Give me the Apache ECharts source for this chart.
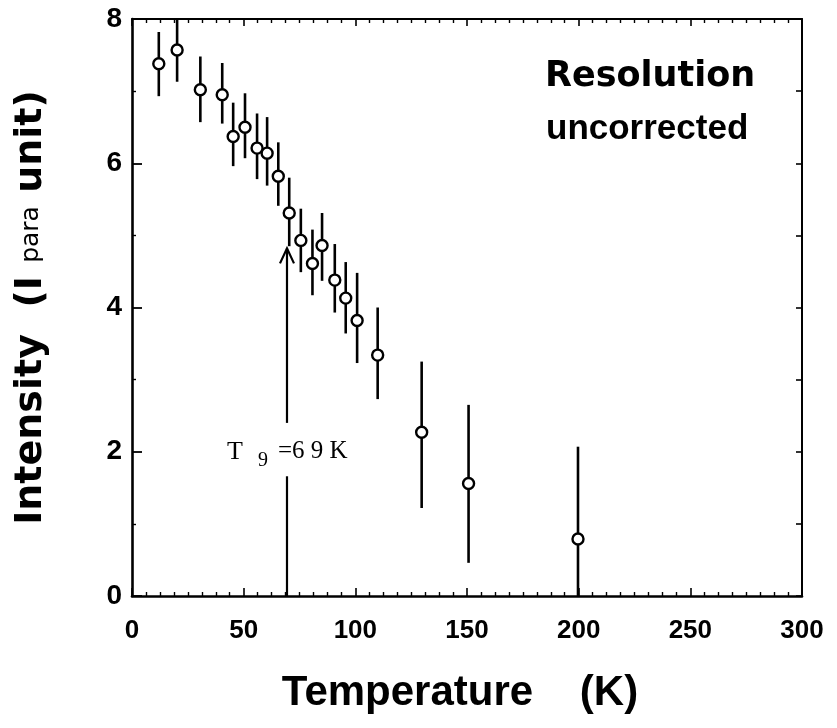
<!DOCTYPE html>
<html>
<head>
<meta charset="utf-8">
<script src="https://cdn.jsdelivr.net/npm/echarts@6/dist/echarts.min.js"></script>
<style>
  html, body { margin: 0; padding: 0; background: #fff; }
  #main { width: 837px; height: 728px; }
</style>
</head>
<body>
<div id="main"></div>
<script>
// temperatures (K), intensity and error bar ends
var temps = [12, 20.2, 30.6, 40.4, 45.3, 50.6, 56, 60.5, 65.5, 70.4, 75.6, 80.8, 85.1, 90.8, 95.7, 100.8, 110, 129.7, 150.7, 199.7];
var intensity = [7.38, 7.57, 7.02, 6.95, 6.37, 6.50, 6.21, 6.14, 5.82, 5.31, 4.93, 4.61, 4.86, 4.38, 4.13, 3.82, 3.34, 2.27, 1.56, 0.79];
var errHigh = [7.82, 8.0, 7.48, 7.39, 6.84, 6.97, 6.69, 6.64, 6.29, 5.80, 5.37, 5.08, 5.31, 4.88, 4.63, 4.48, 4.0, 3.25, 2.65, 2.07];
var errLow = [6.93, 7.13, 6.57, 6.55, 5.96, 6.07, 5.78, 5.69, 5.41, 4.85, 4.49, 4.17, 4.37, 3.93, 3.64, 3.23, 2.73, 1.22, 0.46, 0.0];

var xTicks = [0, 50, 100, 150, 200, 250, 300];
var yTicks = [0, 2, 4, 6, 8];

// T_g marker: arrow at 69 K from the axis up to the tip, label gap on the shaft
var tgTemp = 69.4;
var tgTip = 4.82;
var tgGap = [1.66, 2.40];
var tgLabelAt = [42.5, 2.18];

var myChart = echarts.init(document.getElementById("main"));

var pointData = temps.map(function (t, i) { return [t, intensity[i]]; });
var barData = temps.map(function (t, i) { return [t, errLow[i], errHigh[i]]; });

var tickFont = "'Liberation Sans', Arial, sans-serif";

var option = {
  backgroundColor: "#fff",
  animation: false,
  grid: { left: 132, right: 35, top: 19, bottom: 132 },
  graphic: [
    {
      type: "text", left: 545, top: 59,
      style: { text: "Resolution", font: "bold 35px 'DejaVu Sans'", fill: "#000" }
    },
    {
      type: "text", left: 546, top: 112,
      style: { text: "uncorrected", font: "bold 35px 'Liberation Sans'", fill: "#000" }
    }
  ],
  xAxis: [
    {
      type: "value", position: "bottom",
      min: xTicks[0], max: xTicks[xTicks.length - 1], interval: 50,
      name: "Temperature    (K)",
      nameLocation: "middle",
      nameGap: 76,
      nameTextStyle: { fontFamily: tickFont, fontWeight: "bold", fontSize: 42, color: "#000", padding: [0, 14, 0, 0] },
      axisLine: { onZero: false, lineStyle: { color: "#000", width: 2.6 } },
      axisTick: { inside: true, length: 8, lineStyle: { color: "#000", width: 1.6 } },
      minorTick: { show: true, splitNumber: 8, length: 4, lineStyle: { color: "#000", width: 1.4 } },
      axisLabel: { margin: 22, fontFamily: tickFont, fontWeight: "bold", fontSize: 26, color: "#000" },
      splitLine: { show: false }
    },
    {
      type: "value", position: "top",
      min: xTicks[0], max: xTicks[xTicks.length - 1], interval: 50,
      axisLine: { onZero: false, lineStyle: { color: "#000", width: 2 } },
      axisTick: { inside: true, length: 7, lineStyle: { color: "#000", width: 1.6 } },
      minorTick: { show: true, splitNumber: 8, length: 4, lineStyle: { color: "#000", width: 1.4 } },
      axisLabel: { show: false },
      splitLine: { show: false }
    }
  ],
  yAxis: [
    {
      type: "value", position: "left",
      min: yTicks[0], max: yTicks[yTicks.length - 1], interval: 2,
      name: "{b|Intensity  (I }{s|para}{b| unit)}",
      nameLocation: "middle",
      nameRotate: 90,
      nameGap: 82,
      nameTextStyle: {
        rich: {
          b: { fontFamily: "'DejaVu Sans'", fontWeight: "bold", fontSize: 38, color: "#000" },
          s: { fontFamily: "'DejaVu Sans'", fontSize: 25, color: "#000" }
        }
      },
      axisLine: { onZero: false, lineStyle: { color: "#000", width: 2.6 } },
      axisTick: { inside: true, length: 10, lineStyle: { color: "#000", width: 1.8 } },
      minorTick: { show: true, splitNumber: 2, length: 4, lineStyle: { color: "#000", width: 1.4 } },
      axisLabel: { margin: 10, fontFamily: tickFont, fontWeight: "bold", fontSize: 28, color: "#000" },
      splitLine: { show: false }
    },
    {
      type: "value", position: "right",
      min: yTicks[0], max: yTicks[yTicks.length - 1], interval: 1,
      axisLine: { onZero: false, lineStyle: { color: "#000", width: 2 } },
      axisTick: { inside: true, length: 6, lineStyle: { color: "#000", width: 1.6 } },
      axisLabel: { show: false },
      splitLine: { show: false }
    }
  ],
  series: [
    {
      // error bars
      type: "custom",
      xAxisIndex: 0, yAxisIndex: 0,
      data: barData,
      encode: { x: 0, y: [1, 2] },
      z: 2,
      renderItem: function (params, api) {
        var top = api.coord([api.value(0), api.value(2)]);
        var bot = api.coord([api.value(0), api.value(1)]);
        return {
          type: "line",
          shape: { x1: top[0], y1: top[1], x2: bot[0], y2: bot[1] },
          style: { stroke: "#000", lineWidth: 2.6 }
        };
      }
    },
    {
      type: "scatter",
      xAxisIndex: 0, yAxisIndex: 0,
      data: pointData,
      symbol: "circle",
      symbolSize: 11,
      z: 4,
      itemStyle: { color: "#fff", borderColor: "#000", borderWidth: 2.4, opacity: 1 }
    },
    {
      // T_g arrow with its label
      type: "custom",
      xAxisIndex: 0, yAxisIndex: 0,
      data: [[tgTemp, 0, tgTip]],
      encode: { x: 0, y: [1, 2] },
      z: 3,
      renderItem: function (params, api) {
        var x = api.value(0);
        var base = api.coord([x, api.value(1)]);
        var tip = api.coord([x, api.value(2)]);
        var gLo = api.coord([x, tgGap[0]]);
        var gHi = api.coord([x, tgGap[1]]);
        var lab = api.coord(tgLabelAt);
        var serif = "'Liberation Serif', 'DejaVu Serif', serif";
        return {
          type: "group",
          children: [
            {
              type: "line",
              shape: { x1: base[0], y1: base[1], x2: gLo[0], y2: gLo[1] },
              style: { stroke: "#000", lineWidth: 2.2 }
            },
            {
              type: "line",
              shape: { x1: gHi[0], y1: gHi[1], x2: tip[0], y2: tip[1] },
              style: { stroke: "#000", lineWidth: 2.2 }
            },
            {
              type: "polyline",
              shape: { points: [[tip[0] - 7, tip[1] + 15], [tip[0], tip[1]], [tip[0] + 7, tip[1] + 15]] },
              style: { stroke: "#000", lineWidth: 2.2, fill: null }
            },
            {
              type: "text", x: lab[0], y: lab[1],
              style: { text: "T", fontFamily: serif, fontSize: 26, fill: "#000", verticalAlign: "top" }
            },
            {
              type: "text", x: lab[0] + 31, y: lab[1] + 12,
              style: { text: "9", fontFamily: serif, fontSize: 20, fill: "#000", verticalAlign: "top" }
            },
            {
              type: "text", x: lab[0] + 51, y: lab[1],
              style: { text: "=6 9 K", fontFamily: serif, fontSize: 25, fill: "#000", verticalAlign: "top" }
            }
          ]
        };
      }
    }
  ]
};

myChart.setOption(option);
window.onresize = function () {
  myChart.resize();
};
</script>
</body>
</html>
